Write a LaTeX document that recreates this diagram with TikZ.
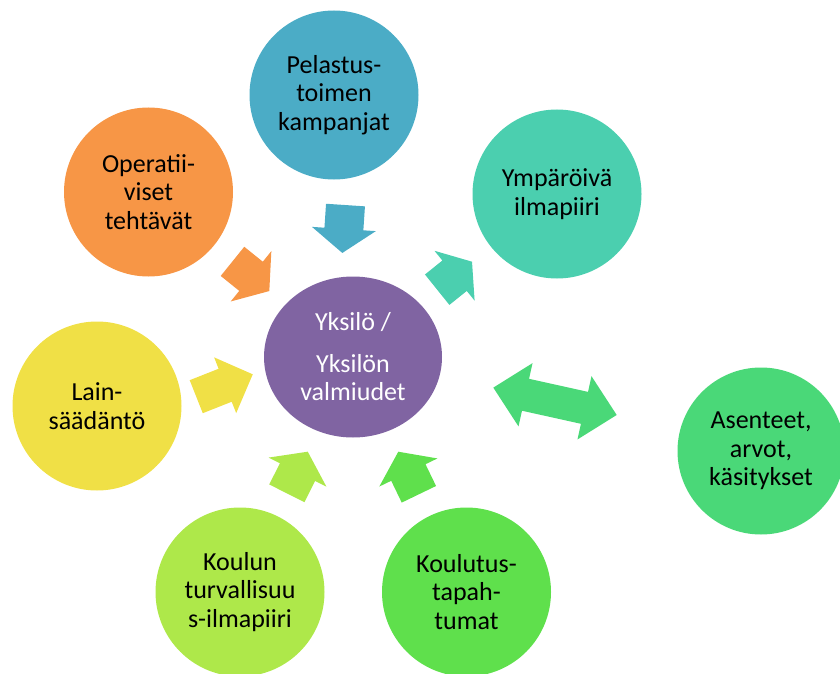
\documentclass[tikz,border=0pt]{standalone}
\usepackage{fontspec}
\setmainfont{Carlito}
\usetikzlibrary{shapes.geometric}
\definecolor{cblue}{HTML}{4BACC6}
\definecolor{corange}{HTML}{F79646}
\definecolor{cteal}{HTML}{4BCFAF}
\definecolor{cpurple}{HTML}{8064A2}
\definecolor{cyellow}{HTML}{F0E046}
\definecolor{cgreenA}{HTML}{4AD878}
\definecolor{cgreenB}{HTML}{AEE84A}
\definecolor{cgreenC}{HTML}{5FE04C}
% #1 colour, #2 cx, #3 cy, #4 angle, #5 length, #6 shaft width, #7 head width, #8 head length
\newcommand{\myblockarrow}[8]{%
  \begin{scope}[shift={(#2,#3)}, rotate=#4]
    \fill[#1] ({-#5/2},{-#6/2}) -- ({#5/2-#8},{-#6/2}) -- ({#5/2-#8},{-#7/2}) -- ({#5/2},0)
      -- ({#5/2-#8},{#7/2}) -- ({#5/2-#8},{#6/2}) -- ({-#5/2},{#6/2}) -- cycle;
  \end{scope}}
\newcommand{\mydoublearrow}[8]{%
  \begin{scope}[shift={(#2,#3)}, rotate=#4]
    \fill[#1] ({-#5/2},0) -- ({-#5/2+#8},{-#7/2}) -- ({-#5/2+#8},{-#6/2}) -- ({#5/2-#8},{-#6/2})
      -- ({#5/2-#8},{-#7/2}) -- ({#5/2},0) -- ({#5/2-#8},{#7/2}) -- ({#5/2-#8},{#6/2})
      -- ({-#5/2+#8},{#6/2}) -- ({-#5/2+#8},{#7/2}) -- cycle;
  \end{scope}}
\begin{document}
\begin{tikzpicture}[x=1pt,y=-1pt,
  bubble/.style={circle, inner sep=0pt, minimum size=169pt, align=center,
    text=black, font=\fontsize{26}{28.5}\selectfont},
  core/.style={ellipse, inner sep=0pt, minimum width=178pt, minimum height=161pt,
    align=center, text=white, font=\fontsize{26}{28.5}\selectfont}]
\useasboundingbox (0,0) rectangle (840,674);
\clip (0,0) rectangle (840,674);

\node[core, fill=cpurple] (center) at (353,357) {Yksilö /\\[13pt]Yksilön\\valmiudet};

\node[bubble, fill=cblue] (pel) at (334,95) {Pelastus-\\toimen\\kampanjat};
\node[bubble, fill=corange] (ope) at (148.5,192) {Operatii-\\viset\\tehtävät};
\node[bubble, fill=cteal] (ymp) at (557,194) {Ympäröivä\\ilmapiiri};
\node[bubble, fill=cyellow] (lai) at (97,406) {Lain-\\säädäntö};
\node[bubble, fill=cgreenA, minimum size=167pt] (ase) at (761,451) {Asenteet,\\arvot,\\käsitykset};
\node[bubble, fill=cgreenB] (kou) at (240,592) {Koulun\\turvallisuu\\s-ilmapiiri};
\node[bubble, fill=cgreenC] (kot) at (466.5,592) {Koulutus-\\tapah-\\tumat};

\myblockarrow{cblue}{343.9}{229}{266.2}{48}{39}{64}{24}
\myblockarrow{corange}{250.9}{276.2}{-38.9}{47.3}{37.5}{64.7}{23.5}
\myblockarrow{cteal}{454.6}{275.7}{38.8}{44.7}{39}{64}{22.4}
\myblockarrow{cyellow}{224.5}{385.5}{21.6}{60.8}{35.5}{60}{29.7}
\myblockarrow{cgreenB}{297.3}{472.5}{63.3}{46.6}{39.4}{64.8}{22.9}
\myblockarrow{cgreenC}{408.6}{473}{115.8}{47.3}{38.1}{64.6}{23.1}
\mydoublearrow{cgreenA}{555}{401.3}{-12.5}{126.4}{32.7}{64.8}{33}
\end{tikzpicture}
\end{document}
